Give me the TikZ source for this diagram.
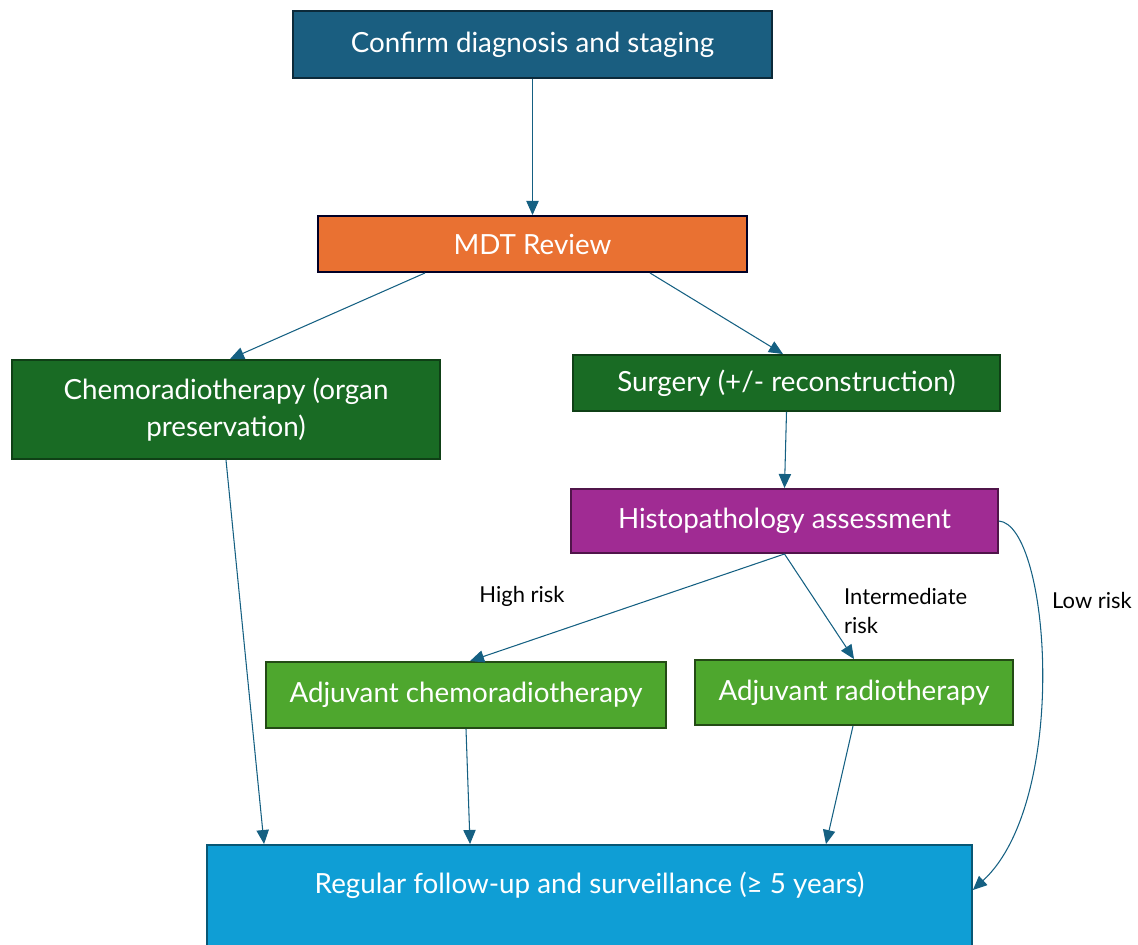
\documentclass[tikz,border=0pt]{standalone}
\usepackage{fontspec}
\setmainfont{Lato}
\usetikzlibrary{arrows.meta}

\definecolor{confirmblue}{HTML}{1A5E80}
\definecolor{mdtorange}{HTML}{E97132}
\definecolor{treatgreen}{HTML}{196B24}
\definecolor{histopurple}{HTML}{A02B93}
\definecolor{adjgreen}{HTML}{4EA72E}
\definecolor{followblue}{HTML}{0F9ED5}
\definecolor{linkblue}{HTML}{156082}

\begin{document}
\begin{tikzpicture}[x=0.02cm, y=-0.02cm,
    every node/.style={font=\fontsize{15.8}{21.5}\selectfont},
    stepbox/.style={draw, line width=1.1pt, text=white, align=center, inner sep=2pt},
    link/.style={-{Triangle[length=8pt,width=7pt]}, linkblue, line width=0.6pt},
    risklabel/.style={font=\fontsize{12.5}{17}\selectfont, align=left}]
        \useasboundingbox (0,0) rectangle (1138,944);

        % Top of the pathway
        \node[stepbox, fill=confirmblue, draw=confirmblue!45!black, minimum width=9.58cm, minimum height=1.34cm] (confirm) at (532.5,44.5) {Confirm diagnosis and staging};
        \node[stepbox, fill=mdtorange, draw=black!85!blue, minimum width=8.58cm, minimum height=1.12cm] (mdt) at (532.5,244) {MDT Review};

        % Treatment options
        \node[stepbox, fill=treatgreen, draw=treatgreen!60!black, minimum width=8.56cm, minimum height=1.98cm] (chemo) at (226,409.5) {Chemoradiotherapy (organ\\ preservation)};
        \node[stepbox, fill=treatgreen, draw=treatgreen!60!black, minimum width=8.54cm, minimum height=1.12cm] (surgery) at (786.5,383) {Surgery (+/- reconstruction)};
        \node[stepbox, fill=histopurple, draw=histopurple!50!black, minimum width=8.54cm, minimum height=1.28cm] (histo) at (784.5,521) {Histopathology assessment};

        % Adjuvant therapy
        \node[stepbox, fill=adjgreen, draw=adjgreen!45!black, minimum width=8.0cm, minimum height=1.32cm] (adjchemo) at (466,695) {Adjuvant chemoradiotherapy};
        \node[stepbox, fill=adjgreen, draw=adjgreen!45!black, minimum width=6.36cm, minimum height=1.3cm] (adjradio) at (854,692.5) {Adjuvant radiotherapy};

        % Follow-up (runs off the bottom edge)
        \node[stepbox, fill=followblue, draw=followblue!55!black, minimum width=15.3cm, minimum height=2.4cm, text height=11pt, text depth=24.6pt] (follow) at (589.5,905) {Regular follow-up and surveillance (≥ 5 years)};

        % Links
        \draw[link] (confirm.south) -- (mdt.north);
        \draw[link] ([xshift=-2.15cm]mdt.south) -- ([xshift=0.08cm]chemo.north);
        \draw[link] ([xshift=2.35cm]mdt.south) -- ([xshift=-0.07cm]surgery.north);
        \draw[link] (surgery.south) -- (histo.north);
        \draw[link] (histo.south) -- ([xshift=0.08cm]adjchemo.north);
        \draw[link] (histo.south) -- (adjradio.north);
        \draw[link] (histo.east) .. controls (1050,525) and (1070,800) .. ([yshift=0.3cm]follow.east);
        \draw[link] (chemo.south) -- ([xshift=-6.51cm]follow.north);
        \draw[link] (adjchemo.south) -- ([xshift=-2.39cm]follow.north);
        \draw[link] ([xshift=-0.02cm]adjradio.south) -- ([xshift=4.73cm]follow.north);

        % Risk labels
        \node[risklabel] (high) at (522,596) {High risk};
        \node[risklabel, anchor=west] (inter) at (838,611) {Intermediate\\ risk};
        \node[risklabel] (low) at (1092,600) {Low risk};
    \end{tikzpicture}
\end{document}
